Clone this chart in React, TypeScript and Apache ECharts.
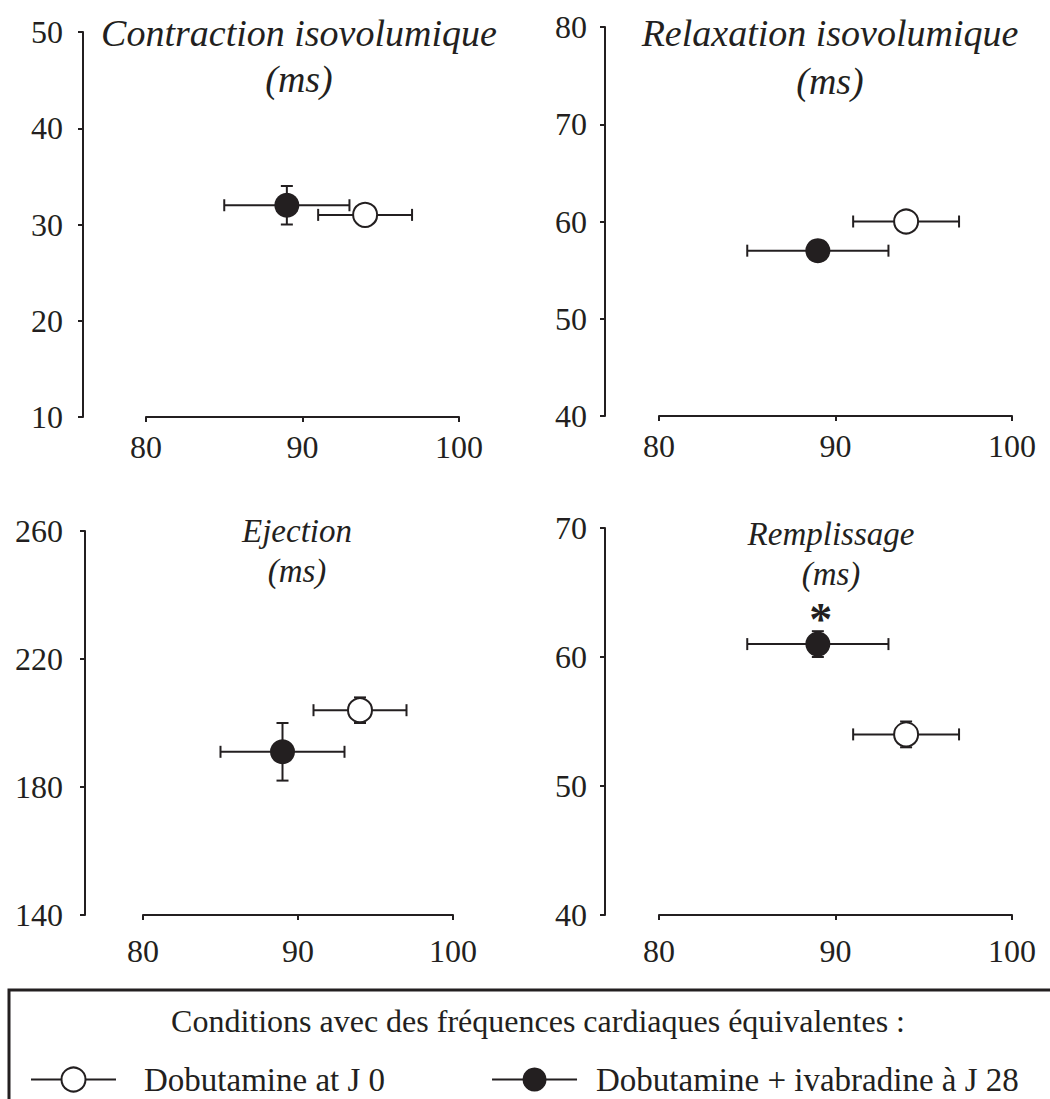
import React, { useEffect, useRef } from "react";
import * as echarts from "echarts";

// ---- data ----
const panelTitles = ["Contraction isovolumique", "Relaxation isovolumique", "Ejection", "Remplissage"];
const unitLabel = "(ms)";
const seriesNames = ["Dobutamine at J 0", "Dobutamine + ivabradine à J 28"];
const legendTitle = "Conditions avec des fréquences cardiaques équivalentes :";

// heart rate (x) per panel
const hrJ0 = [94, 94, 94, 94];
const hrJ0Err = [3, 3, 3, 3];
const hrJ28 = [89, 89, 89, 89];
const hrJ28Err = [4, 4, 4, 4];
// durations (y) per panel, ms
const durJ0 = [31, 60, 204, 54];
const durJ0Err = [1, 1, 4, 1];
const durJ28 = [32, 57, 191, 61];
const durJ28Err = [2, 1, 9, 1];
const sigJ28 = ["", "", "", "*"];

const xMin = 80;
const xMax = 100;
const xInterval = 10;
const yMin = [10, 40, 140, 40];
const yMax = [50, 80, 260, 70];
const yInterval = [10, 10, 40, 10];

// ---- layout / style ----
const INK = "#231f20";
const FONT = "Liberation Serif";
const TICK_FONT = 32;
const grids = [
  { left: 146, top: 32, width: 313, height: 385 },
  { left: 659, top: 27, width: 353, height: 389 },
  { left: 143, top: 531, width: 310, height: 384 },
  { left: 659, top: 528, width: 353, height: 387 },
];
const yOffsets = [63, 54, 58, 54];
const yLabelMargins = [20, 18, 22, 18];
const xLabelMargins = [14, 14, 20, 20];
const titlePos = [
  { x: 299, y1: 33, y2: 79, size: 38 },
  { x: 830, y1: 33, y2: 81, size: 38 },
  { x: 297, y1: 531, y2: 571, size: 33 },
  { x: 831, y1: 534, y2: 574, size: 33 },
];

function errorBarRender(params: any, api: any) {
  const x = api.value(0);
  const y = api.value(1);
  const xe = api.value(2);
  const ye = api.value(3);
  const l = api.coord([x - xe, y]);
  const r = api.coord([x + xe, y]);
  const t = api.coord([x, y + ye]);
  const b = api.coord([x, y - ye]);
  const cap = 6;
  const style = { stroke: INK, lineWidth: 2, fill: null };
  const ln = (x1: number, y1: number, x2: number, y2: number) => ({
    type: "line",
    shape: { x1, y1, x2, y2 },
    style,
  });
  return {
    type: "group",
    children: [
      ln(l[0], l[1], r[0], r[1]),
      ln(l[0], l[1] - cap, l[0], l[1] + cap),
      ln(r[0], r[1] - cap, r[0], r[1] + cap),
      ln(t[0], t[1], b[0], b[1]),
      ln(t[0] - cap, t[1], t[0] + cap, t[1]),
      ln(b[0] - cap, b[1], b[0] + cap, b[1]),
    ],
  };
}

function buildOption() {
  const xAxis: any[] = [];
  const yAxis: any[] = [];
  const series: any[] = [];
  const graphic: any[] = [];

  // line series without data: they give the legend its line + marker icons
  series.push({
    name: seriesNames[0],
    type: "line",
    data: [],
    xAxisIndex: 0,
    yAxisIndex: 0,
    symbol: "emptyCircle",
    itemStyle: { color: INK },
    lineStyle: { color: INK, width: 2.5 },
  });
  series.push({
    name: seriesNames[1],
    type: "line",
    data: [],
    xAxisIndex: 0,
    yAxisIndex: 0,
    symbol: "circle",
    itemStyle: { color: INK },
    lineStyle: { color: INK, width: 2.5 },
  });

  for (let i = 0; i < 4; i++) {
    xAxis.push({
      type: "value",
      gridIndex: i,
      min: xMin,
      max: xMax,
      interval: xInterval,
      splitLine: { show: false },
      axisLine: { show: true, onZero: false, lineStyle: { color: INK, width: 2 } },
      axisTick: { show: true, inside: false, length: 5, lineStyle: { color: INK, width: 2 } },
      axisLabel: { color: INK, fontSize: TICK_FONT, fontFamily: FONT, margin: xLabelMargins[i] },
    });
    yAxis.push({
      type: "value",
      gridIndex: i,
      min: yMin[i],
      max: yMax[i],
      interval: yInterval[i],
      offset: yOffsets[i],
      splitLine: { show: false },
      axisLine: { show: true, onZero: false, lineStyle: { color: INK, width: 2 } },
      axisTick: { show: true, inside: false, length: 5, lineStyle: { color: INK, width: 2 } },
      axisLabel: { color: INK, fontSize: TICK_FONT, fontFamily: FONT, margin: yLabelMargins[i] },
    });

    series.push({
      type: "custom",
      xAxisIndex: i,
      yAxisIndex: i,
      z: 1,
      silent: true,
      encode: { x: 0, y: 1 },
      renderItem: errorBarRender,
      data: [
        [hrJ0[i], durJ0[i], hrJ0Err[i], durJ0Err[i]],
        [hrJ28[i], durJ28[i], hrJ28Err[i], durJ28Err[i]],
      ],
    });
    series.push({
      name: seriesNames[0],
      type: "scatter",
      xAxisIndex: i,
      yAxisIndex: i,
      z: 3,
      symbol: "circle",
      symbolSize: 24,
      itemStyle: { color: "#ffffff", borderColor: INK, borderWidth: 2, opacity: 1 },
      data: [[hrJ0[i], durJ0[i]]],
    });
    series.push({
      name: seriesNames[1],
      type: "scatter",
      xAxisIndex: i,
      yAxisIndex: i,
      z: 3,
      symbol: "circle",
      symbolSize: 25,
      itemStyle: { color: INK, opacity: 1 },
      label: {
        show: !!sigJ28[i],
        position: "top",
        distance: -11,
        offset: [3, 0],
        formatter: () => sigJ28[i],
        fontSize: 46,
        fontWeight: "bold",
        fontFamily: FONT,
        color: INK,
      },
      data: [[hrJ28[i], durJ28[i]]],
    });

    const tp = titlePos[i];
    graphic.push({
      type: "text",
      x: tp.x,
      y: tp.y1,
      style: {
        text: panelTitles[i],
        textAlign: "center",
        textVerticalAlign: "middle",
        fontStyle: "italic",
        fontSize: tp.size,
        fontFamily: FONT,
        fill: INK,
      },
    });
    graphic.push({
      type: "text",
      x: tp.x,
      y: tp.y2,
      style: {
        text: unitLabel,
        textAlign: "center",
        textVerticalAlign: "middle",
        fontStyle: "italic",
        fontSize: tp.size,
        fontFamily: FONT,
        fill: INK,
      },
    });
  }

  // legend frame and heading
  graphic.push({
    type: "rect",
    shape: { x: 9, y: 990, width: 1100, height: 200 },
    style: { fill: null, stroke: INK, lineWidth: 3 },
    silent: true,
  });
  graphic.push({
    type: "text",
    x: 538,
    y: 1021,
    style: {
      text: legendTitle,
      textAlign: "center",
      textVerticalAlign: "middle",
      fontSize: 32,
      fontFamily: FONT,
      fill: INK,
    },
  });

  return {
    animation: false,
    backgroundColor: "#ffffff",
    textStyle: { fontFamily: FONT },
    grid: grids.map((g) => ({ ...g, containLabel: false })),
    xAxis,
    yAxis,
    series,
    graphic,
    legend: {
      data: [
        { name: seriesNames[0], textStyle: { padding: [0, 0, 0, 23] } },
        { name: seriesNames[1], textStyle: { padding: [0, 0, 0, 14] } },
      ],
      left: 30,
      top: 1063,
      padding: 0,
      itemWidth: 85,
      itemHeight: 30,
      itemGap: 106,
      selectedMode: false,
      textStyle: { color: INK, fontSize: 33, fontFamily: FONT },
    },
  };
}

export default function App() {
  const ref = useRef<HTMLDivElement>(null);
  useEffect(() => {
    if (!ref.current) return;
    const chart = echarts.init(ref.current, undefined, { renderer: "svg" });
    chart.setOption(buildOption() as any);
    return () => chart.dispose();
  }, []);
  return (
    <div
      ref={ref}
      style={{ position: "absolute", left: 0, top: 0, width: 1050, height: 1099, background: "#fff" }}
    />
  );
}
